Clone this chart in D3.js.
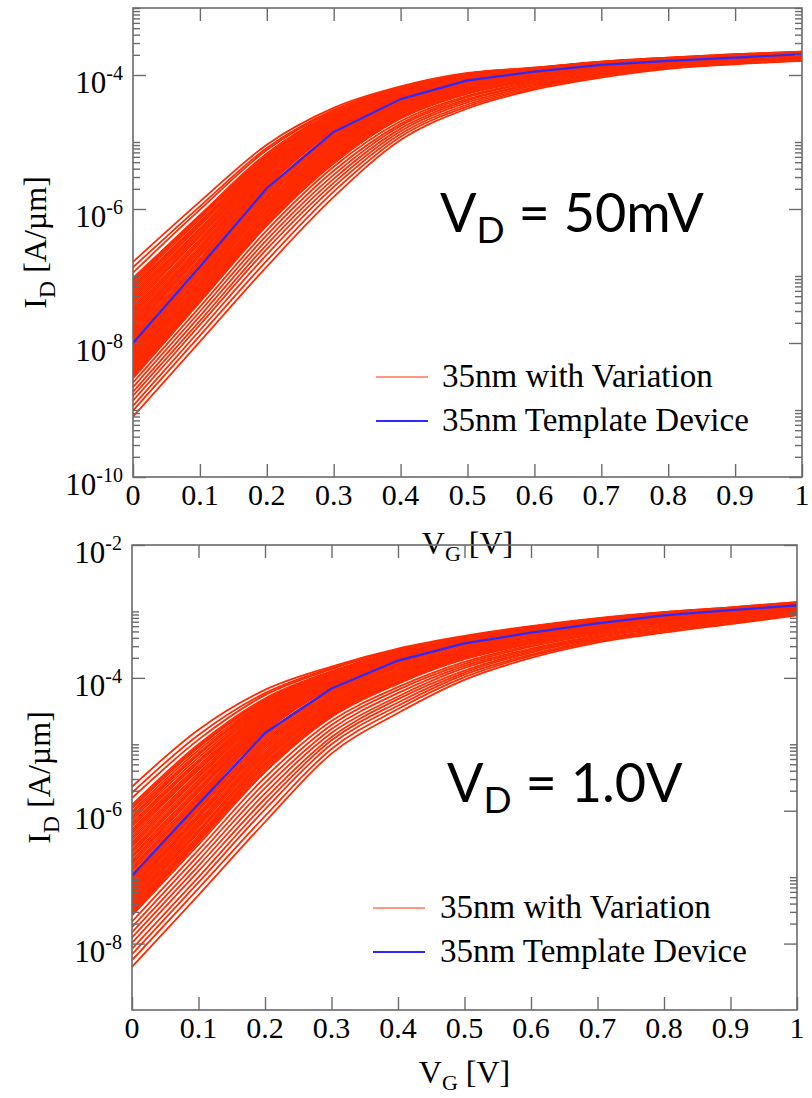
<!DOCTYPE html>
<html>
<head>
<meta charset="utf-8">
<script src="https://cdn.jsdelivr.net/npm/d3@7"></script>
<style>
  html, body { margin: 0; padding: 0; background: #ffffff; }
  svg { display: block; }
</style>
</head>
<body>
<svg id="chart" width="812" height="1098"></svg>
<script>
// Gate voltage sample points [V] and their tick labels
const vgVolts = [0, 0.1, 0.2, 0.3, 0.4, 0.5, 0.6, 0.7, 0.8, 0.9, 1.0];
const xTickLabels = ["0", "0.1", "0.2", "0.3", "0.4", "0.5", "0.6", "0.7", "0.8", "0.9", "1"];

// Drain current, stored as log10(I_D [A/µm]) at each gate voltage
// V_D = 50 mV
const template50mV = [-8.00, -6.86, -5.69, -4.85, -4.36, -4.08, -3.95, -3.85, -3.79, -3.74, -3.69];
const variation50mV = [
  [-7.97, -6.84, -5.68, -4.84, -4.36, -4.08, -3.95, -3.85, -3.79, -3.74, -3.69],
  [-7.94, -6.81, -5.66, -4.83, -4.35, -4.07, -3.95, -3.85, -3.79, -3.74, -3.69],
  [-7.91, -6.78, -5.64, -4.82, -4.35, -4.07, -3.95, -3.85, -3.79, -3.74, -3.69],
  [-7.88, -6.77, -5.62, -4.81, -4.34, -4.07, -3.94, -3.84, -3.78, -3.73, -3.69],
  [-7.85, -6.74, -5.61, -4.81, -4.34, -4.07, -3.94, -3.84, -3.78, -3.73, -3.69],
  [-7.82, -6.70, -5.59, -4.80, -4.33, -4.06, -3.94, -3.84, -3.78, -3.73, -3.68],
  [-7.79, -6.69, -5.58, -4.79, -4.33, -4.06, -3.94, -3.84, -3.78, -3.73, -3.68],
  [-7.76, -6.67, -5.57, -4.78, -4.32, -4.06, -3.94, -3.84, -3.78, -3.73, -3.68],
  [-7.73, -6.64, -5.55, -4.77, -4.32, -4.06, -3.94, -3.84, -3.78, -3.73, -3.68],
  [-7.70, -6.61, -5.53, -4.76, -4.31, -4.05, -3.93, -3.84, -3.78, -3.73, -3.68],
  [-7.67, -6.60, -5.51, -4.75, -4.31, -4.05, -3.93, -3.83, -3.77, -3.72, -3.68],
  [-7.64, -6.58, -5.49, -4.74, -4.30, -4.05, -3.93, -3.83, -3.77, -3.72, -3.68],
  [-7.61, -6.55, -5.48, -4.73, -4.30, -4.05, -3.93, -3.83, -3.77, -3.72, -3.68],
  [-7.58, -6.51, -5.46, -4.72, -4.29, -4.04, -3.93, -3.83, -3.77, -3.72, -3.68],
  [-7.55, -6.50, -5.45, -4.72, -4.29, -4.04, -3.93, -3.83, -3.77, -3.72, -3.67],
  [-7.52, -6.48, -5.43, -4.71, -4.28, -4.04, -3.93, -3.83, -3.77, -3.72, -3.67],
  [-7.49, -6.45, -5.41, -4.70, -4.28, -4.03, -3.92, -3.83, -3.77, -3.72, -3.67],
  [-7.46, -6.41, -5.40, -4.69, -4.27, -4.03, -3.92, -3.83, -3.77, -3.72, -3.67],
  [-7.42, -6.40, -5.38, -4.68, -4.27, -4.03, -3.92, -3.82, -3.76, -3.71, -3.67],
  [-7.39, -6.38, -5.36, -4.67, -4.26, -4.02, -3.92, -3.82, -3.76, -3.71, -3.67],
  [-7.36, -6.35, -5.35, -4.66, -4.26, -4.02, -3.92, -3.82, -3.76, -3.71, -3.67],
  [-7.33, -6.32, -5.33, -4.65, -4.26, -4.02, -3.92, -3.82, -3.76, -3.71, -3.67],
  [-7.30, -6.30, -5.31, -4.64, -4.25, -4.02, -3.91, -3.82, -3.76, -3.71, -3.67],
  [-7.27, -6.29, -5.30, -4.63, -4.25, -4.01, -3.91, -3.82, -3.76, -3.71, -3.67],
  [-7.24, -6.25, -5.28, -4.62, -4.24, -4.01, -3.91, -3.82, -3.76, -3.71, -3.66],
  [-7.21, -6.22, -5.27, -4.62, -4.24, -4.01, -3.91, -3.82, -3.76, -3.71, -3.66],
  [-7.18, -6.20, -5.25, -4.61, -4.23, -4.00, -3.91, -3.81, -3.75, -3.70, -3.66],
  [-7.15, -6.19, -5.23, -4.60, -4.23, -4.00, -3.91, -3.81, -3.75, -3.70, -3.66],
  [-7.12, -6.15, -5.22, -4.59, -4.22, -4.00, -3.90, -3.81, -3.75, -3.70, -3.66],
  [-7.09, -6.12, -5.20, -4.58, -4.22, -4.00, -3.90, -3.81, -3.75, -3.70, -3.66],
  [-7.06, -6.10, -5.18, -4.57, -4.21, -3.99, -3.90, -3.81, -3.75, -3.70, -3.66],
  [-7.03, -6.09, -5.17, -4.56, -4.21, -3.99, -3.90, -3.81, -3.75, -3.70, -3.66],
  [-6.95, -6.01, -5.12, -4.54, -4.19, -3.98, -3.90, -3.81, -3.75, -3.70, -3.66],
  [-6.87, -5.96, -5.09, -4.52, -4.18, -3.98, -3.89, -3.80, -3.74, -3.69, -3.65],
  [-6.79, -5.89, -5.04, -4.49, -4.17, -3.97, -3.89, -3.80, -3.74, -3.69, -3.65],
  [-8.02, -6.88, -5.72, -4.87, -4.37, -4.09, -3.96, -3.86, -3.79, -3.74, -3.69],
  [-8.04, -6.90, -5.74, -4.89, -4.38, -4.10, -3.96, -3.86, -3.79, -3.74, -3.69],
  [-8.07, -6.92, -5.76, -4.91, -4.40, -4.11, -3.97, -3.86, -3.80, -3.75, -3.70],
  [-8.09, -6.94, -5.78, -4.93, -4.41, -4.11, -3.97, -3.87, -3.80, -3.75, -3.70],
  [-8.11, -6.97, -5.81, -4.95, -4.42, -4.12, -3.98, -3.87, -3.80, -3.75, -3.70],
  [-8.13, -7.00, -5.83, -4.97, -4.43, -4.13, -3.98, -3.87, -3.80, -3.75, -3.70],
  [-8.15, -7.02, -5.85, -4.99, -4.45, -4.14, -3.99, -3.88, -3.81, -3.75, -3.70],
  [-8.18, -7.03, -5.88, -5.01, -4.46, -4.15, -3.99, -3.88, -3.81, -3.76, -3.71],
  [-8.20, -7.06, -5.90, -5.03, -4.47, -4.15, -4.00, -3.88, -3.81, -3.76, -3.71],
  [-8.22, -7.09, -5.92, -5.04, -4.48, -4.16, -4.00, -3.89, -3.81, -3.76, -3.71],
  [-8.24, -7.11, -5.95, -5.06, -4.50, -4.17, -4.01, -3.89, -3.81, -3.76, -3.71],
  [-8.26, -7.12, -5.97, -5.08, -4.51, -4.18, -4.01, -3.90, -3.82, -3.76, -3.71],
  [-8.29, -7.15, -5.99, -5.10, -4.52, -4.19, -4.02, -3.90, -3.82, -3.77, -3.72],
  [-8.31, -7.18, -6.02, -5.12, -4.53, -4.20, -4.03, -3.90, -3.82, -3.77, -3.72],
  [-8.33, -7.20, -6.04, -5.14, -4.55, -4.21, -4.03, -3.91, -3.82, -3.77, -3.72],
  [-8.35, -7.21, -6.06, -5.16, -4.56, -4.21, -4.04, -3.91, -3.83, -3.77, -3.72],
  [-8.37, -7.24, -6.09, -5.18, -4.57, -4.22, -4.04, -3.92, -3.83, -3.77, -3.72],
  [-8.40, -7.27, -6.11, -5.20, -4.58, -4.23, -4.05, -3.92, -3.83, -3.78, -3.73],
  [-8.42, -7.29, -6.13, -5.22, -4.59, -4.24, -4.05, -3.92, -3.84, -3.78, -3.73],
  [-8.44, -7.30, -6.16, -5.24, -4.60, -4.25, -4.06, -3.93, -3.84, -3.78, -3.73],
  [-8.46, -7.33, -6.18, -5.26, -4.62, -4.25, -4.06, -3.93, -3.84, -3.78, -3.73],
  [-8.48, -7.36, -6.20, -5.28, -4.63, -4.26, -4.07, -3.93, -3.84, -3.78, -3.73],
  [-8.51, -7.37, -6.23, -5.30, -4.64, -4.27, -4.07, -3.94, -3.85, -3.79, -3.74],
  [-8.53, -7.39, -6.25, -5.32, -4.65, -4.28, -4.08, -3.94, -3.85, -3.79, -3.74],
  [-8.59, -7.46, -6.32, -5.37, -4.69, -4.31, -4.10, -3.95, -3.85, -3.79, -3.74],
  [-8.66, -7.53, -6.39, -5.43, -4.73, -4.33, -4.11, -3.96, -3.86, -3.80, -3.75],
  [-8.73, -7.60, -6.46, -5.49, -4.76, -4.36, -4.13, -3.98, -3.87, -3.81, -3.76],
  [-8.79, -7.67, -6.53, -5.55, -4.80, -4.38, -4.14, -3.99, -3.88, -3.81, -3.76],
  [-8.86, -7.73, -6.60, -5.61, -4.84, -4.41, -4.16, -4.00, -3.88, -3.82, -3.77],
  [-8.94, -7.81, -6.68, -5.67, -4.88, -4.44, -4.18, -4.01, -3.89, -3.83, -3.78],
  [-9.01, -7.89, -6.77, -5.74, -4.92, -4.47, -4.20, -4.02, -3.90, -3.83, -3.78],
  [-9.10, -7.98, -6.86, -5.82, -4.97, -4.50, -4.22, -4.04, -3.91, -3.84, -3.79]
];

// V_D = 1.0 V
const template1V = [-6.98, -5.90, -4.83, -4.16, -3.74, -3.48, -3.32, -3.18, -3.06, -2.98, -2.91];
const variation1V = [
  [-6.95, -5.87, -4.82, -4.15, -3.74, -3.48, -3.32, -3.18, -3.06, -2.98, -2.91],
  [-6.91, -5.84, -4.80, -4.14, -3.73, -3.47, -3.31, -3.18, -3.06, -2.98, -2.91],
  [-6.88, -5.81, -4.78, -4.13, -3.72, -3.47, -3.31, -3.17, -3.06, -2.98, -2.91],
  [-6.85, -5.79, -4.76, -4.13, -3.72, -3.47, -3.31, -3.17, -3.05, -2.98, -2.90],
  [-6.81, -5.76, -4.75, -4.12, -3.72, -3.47, -3.31, -3.17, -3.05, -2.97, -2.90],
  [-6.78, -5.72, -4.73, -4.11, -3.71, -3.46, -3.30, -3.17, -3.05, -2.97, -2.90],
  [-6.75, -5.70, -4.72, -4.10, -3.71, -3.46, -3.30, -3.17, -3.05, -2.97, -2.90],
  [-6.71, -5.68, -4.70, -4.09, -3.70, -3.46, -3.30, -3.16, -3.05, -2.97, -2.90],
  [-6.68, -5.65, -4.68, -4.09, -3.70, -3.46, -3.30, -3.16, -3.05, -2.97, -2.90],
  [-6.64, -5.61, -4.67, -4.08, -3.69, -3.45, -3.29, -3.16, -3.05, -2.97, -2.90],
  [-6.61, -5.59, -4.65, -4.07, -3.69, -3.45, -3.29, -3.16, -3.04, -2.97, -2.89],
  [-6.58, -5.57, -4.63, -4.06, -3.69, -3.45, -3.29, -3.16, -3.04, -2.97, -2.89],
  [-6.54, -5.54, -4.62, -4.05, -3.68, -3.45, -3.29, -3.15, -3.04, -2.97, -2.89],
  [-6.51, -5.50, -4.60, -4.04, -3.68, -3.44, -3.28, -3.15, -3.04, -2.97, -2.89],
  [-6.48, -5.48, -4.59, -4.04, -3.68, -3.44, -3.28, -3.15, -3.04, -2.96, -2.89],
  [-6.44, -5.46, -4.57, -4.03, -3.67, -3.44, -3.28, -3.15, -3.04, -2.96, -2.89],
  [-6.41, -5.43, -4.55, -4.02, -3.67, -3.43, -3.28, -3.15, -3.04, -2.96, -2.89],
  [-6.38, -5.39, -4.54, -4.01, -3.66, -3.43, -3.27, -3.14, -3.04, -2.96, -2.89],
  [-6.34, -5.37, -4.52, -4.00, -3.66, -3.43, -3.27, -3.14, -3.03, -2.96, -2.88],
  [-6.31, -5.35, -4.50, -3.99, -3.65, -3.42, -3.27, -3.14, -3.03, -2.96, -2.88],
  [-6.28, -5.32, -4.49, -3.99, -3.65, -3.42, -3.27, -3.14, -3.03, -2.96, -2.88],
  [-6.24, -5.28, -4.47, -3.98, -3.64, -3.42, -3.26, -3.14, -3.03, -2.96, -2.88],
  [-6.21, -5.26, -4.46, -3.97, -3.64, -3.42, -3.26, -3.13, -3.03, -2.96, -2.88],
  [-6.18, -5.24, -4.44, -3.96, -3.63, -3.41, -3.26, -3.13, -3.03, -2.96, -2.88],
  [-6.14, -5.20, -4.42, -3.96, -3.63, -3.41, -3.26, -3.13, -3.03, -2.95, -2.88],
  [-6.11, -5.16, -4.41, -3.95, -3.62, -3.41, -3.25, -3.13, -3.03, -2.95, -2.88],
  [-6.08, -5.15, -4.39, -3.94, -3.62, -3.41, -3.25, -3.13, -3.02, -2.95, -2.88],
  [-6.04, -5.13, -4.37, -3.93, -3.61, -3.40, -3.25, -3.12, -3.02, -2.95, -2.87],
  [-6.01, -5.09, -4.36, -3.92, -3.61, -3.40, -3.25, -3.12, -3.02, -2.95, -2.87],
  [-5.97, -5.05, -4.34, -3.91, -3.60, -3.40, -3.24, -3.12, -3.02, -2.95, -2.87],
  [-5.94, -5.03, -4.33, -3.91, -3.60, -3.39, -3.24, -3.12, -3.02, -2.95, -2.87],
  [-5.91, -5.00, -4.31, -3.90, -3.60, -3.39, -3.24, -3.12, -3.02, -2.95, -2.87],
  [-5.81, -4.93, -4.26, -3.87, -3.58, -3.38, -3.23, -3.11, -3.02, -2.95, -2.87],
  [-5.73, -4.86, -4.23, -3.85, -3.57, -3.38, -3.23, -3.11, -3.01, -2.94, -2.86],
  [-5.64, -4.78, -4.18, -3.83, -3.56, -3.37, -3.22, -3.10, -3.01, -2.94, -2.86],
  [-7.01, -5.93, -4.86, -4.18, -3.76, -3.49, -3.33, -3.19, -3.07, -2.99, -2.92],
  [-7.03, -5.95, -4.88, -4.20, -3.77, -3.50, -3.34, -3.19, -3.07, -2.99, -2.92],
  [-7.06, -5.98, -4.91, -4.22, -3.79, -3.51, -3.35, -3.20, -3.08, -2.99, -2.92],
  [-7.09, -6.00, -4.94, -4.24, -3.80, -3.52, -3.35, -3.20, -3.08, -3.00, -2.92],
  [-7.12, -6.04, -4.97, -4.26, -3.82, -3.54, -3.36, -3.21, -3.09, -3.00, -2.93],
  [-7.14, -6.07, -4.99, -4.28, -3.83, -3.55, -3.37, -3.21, -3.09, -3.01, -2.93],
  [-7.17, -6.09, -5.02, -4.30, -3.85, -3.56, -3.38, -3.22, -3.10, -3.01, -2.93],
  [-7.20, -6.11, -5.04, -4.32, -3.87, -3.57, -3.38, -3.23, -3.10, -3.01, -2.93],
  [-7.23, -6.15, -5.07, -4.34, -3.89, -3.58, -3.39, -3.23, -3.11, -3.02, -2.94],
  [-7.25, -6.18, -5.10, -4.36, -3.90, -3.59, -3.40, -3.24, -3.11, -3.02, -2.94],
  [-7.28, -6.20, -5.13, -4.38, -3.92, -3.60, -3.40, -3.24, -3.12, -3.03, -2.94],
  [-7.31, -6.22, -5.15, -4.40, -3.93, -3.61, -3.41, -3.25, -3.12, -3.03, -2.95],
  [-7.34, -6.25, -5.18, -4.42, -3.95, -3.62, -3.42, -3.25, -3.13, -3.03, -2.95],
  [-7.36, -6.29, -5.21, -4.43, -3.96, -3.63, -3.43, -3.26, -3.13, -3.04, -2.95],
  [-7.39, -6.31, -5.23, -4.45, -3.98, -3.65, -3.43, -3.27, -3.14, -3.04, -2.95],
  [-7.42, -6.33, -5.26, -4.47, -3.99, -3.66, -3.44, -3.27, -3.14, -3.05, -2.96],
  [-7.45, -6.37, -5.29, -4.49, -4.01, -3.67, -3.45, -3.28, -3.15, -3.05, -2.96],
  [-7.47, -6.40, -5.31, -4.51, -4.02, -3.68, -3.46, -3.28, -3.15, -3.06, -2.96],
  [-7.50, -6.42, -5.34, -4.53, -4.04, -3.69, -3.47, -3.29, -3.16, -3.06, -2.97],
  [-7.53, -6.44, -5.37, -4.55, -4.06, -3.70, -3.47, -3.30, -3.16, -3.06, -2.97],
  [-7.55, -6.47, -5.40, -4.57, -4.07, -3.71, -3.48, -3.30, -3.17, -3.07, -2.97],
  [-7.58, -6.51, -5.42, -4.59, -4.09, -3.72, -3.49, -3.31, -3.17, -3.07, -2.98],
  [-7.67, -6.59, -5.50, -4.65, -4.14, -3.76, -3.51, -3.33, -3.19, -3.09, -2.99],
  [-7.75, -6.67, -5.58, -4.71, -4.18, -3.79, -3.53, -3.34, -3.21, -3.10, -2.99],
  [-7.83, -6.75, -5.66, -4.77, -4.23, -3.82, -3.56, -3.36, -3.22, -3.11, -3.00],
  [-7.91, -6.83, -5.74, -4.83, -4.28, -3.85, -3.58, -3.38, -3.24, -3.12, -3.01],
  [-7.99, -6.91, -5.82, -4.89, -4.32, -3.89, -3.60, -3.39, -3.25, -3.14, -3.02],
  [-8.08, -7.00, -5.90, -4.94, -4.37, -3.92, -3.62, -3.41, -3.27, -3.15, -3.03],
  [-8.16, -7.08, -5.98, -5.00, -4.42, -3.95, -3.65, -3.43, -3.28, -3.16, -3.04],
  [-8.25, -7.17, -6.08, -5.07, -4.47, -3.99, -3.67, -3.45, -3.30, -3.18, -3.05],
  [-8.35, -7.27, -6.17, -5.14, -4.53, -4.03, -3.70, -3.47, -3.32, -3.19, -3.06]
];

// Decades that carry a labelled major tick on the current axis
const majorExp50mV = [-10, -8, -6, -4];
const majorExp1V = [-8, -6, -4, -2];
const minorMultipliers = [2, 3, 4, 5, 6, 7, 8, 9, 10];

const legendLabels = ["35nm with Variation", "35nm Template Device"];

const RED = "#ff2a00";
const BLUE = "#2a2aff";
const FRAME = "#6a6a6a";
const SERIF = "'Liberation Serif', 'Times New Roman', Times, serif";
const SANS = "Lato, 'Open Sans', 'Noto Sans', sans-serif";

const svg = d3.select("#chart");

const panels = [
  {
    id: "p50mV",
    template: template50mV, variation: variation50mV,
    majors: majorExp50mV, domain: [1e-10, 1e-3],
    left: 133, right: 802, top: 8, bottom: 477,
    titleX: 46, titleGap: 77,
    noteSub: "D", noteText: " = 50mV", noteX: 440, noteY: 232,
    legendX: 376, legendTextX: 442, legendY: 377
  },
  {
    id: "p1V",
    template: template1V, variation: variation1V,
    majors: majorExp1V, domain: [1e-9, 1e-2],
    left: 132, right: 797, top: 545, bottom: 1010,
    titleX: 50, titleGap: 73,
    noteSub: "D", noteText: " = 1.0V", noteX: 447, noteY: 802,
    legendX: 373, legendTextX: 440, legendY: 908
  }
];

function drawPanel(p) {
  const x = d3.scaleLinear().domain([0, 1]).range([p.left, p.right]);
  const y = d3.scaleLog().domain(p.domain).range([p.bottom, p.top]);
  const g = svg.append("g").attr("id", p.id);

  g.append("clipPath").attr("id", p.id + "-clip")
    .append("rect")
    .attr("x", p.left).attr("y", p.top)
    .attr("width", p.right - p.left).attr("height", p.bottom - p.top);

  const smoothLine = d3.line()
    .x((d, i) => x(vgVolts[i]))
    .y(d => y(Math.pow(10, d)))
    .curve(d3.curveMonotoneX);
  const straightLine = d3.line()
    .x((d, i) => x(vgVolts[i]))
    .y(d => y(Math.pow(10, d)));

  const curves = g.append("g").attr("clip-path", `url(#${p.id}-clip)`);
  curves.selectAll("path.variation")
    .data(p.variation)
    .join("path")
    .attr("class", "variation")
    .attr("d", smoothLine)
    .attr("fill", "none")
    .attr("stroke", RED)
    .attr("stroke-width", 1.8)
    .attr("stroke-linejoin", "round");
  curves.append("path")
    .datum(p.template)
    .attr("d", straightLine)
    .attr("fill", "none")
    .attr("stroke", BLUE)
    .attr("stroke-width", 2.2)
    .attr("stroke-linejoin", "round");

  // Ticks: all point inward, mirrored on the opposite sides
  const majorVals = p.majors.map(e => Math.pow(10, e));
  const minorVals = [];
  p.majors.forEach(e => minorMultipliers.forEach(k => {
    const v = k * Math.pow(10, e);
    if (v >= p.domain[0] && v <= p.domain[1]) minorVals.push(v);
  }));

  const styleAxis = sel => {
    sel.select(".domain").remove();
    sel.selectAll(".tick line").attr("stroke", FRAME).attr("stroke-width", 1.4);
    sel.selectAll(".tick text").remove();
  };

  g.append("g").attr("transform", `translate(0,${p.bottom})`)
    .call(d3.axisBottom(x).tickValues(vgVolts).tickSize(-13)).call(styleAxis);
  g.append("g").attr("transform", `translate(0,${p.top})`)
    .call(d3.axisTop(x).tickValues(vgVolts.slice(1, -1)).tickSize(-13)).call(styleAxis);
  g.append("g").attr("transform", `translate(${p.left},0)`)
    .call(d3.axisLeft(y).tickValues(majorVals).tickSize(-13)).call(styleAxis);
  g.append("g").attr("transform", `translate(${p.left},0)`)
    .call(d3.axisLeft(y).tickValues(minorVals).tickSize(-7)).call(styleAxis);
  g.append("g").attr("transform", `translate(${p.right},0)`)
    .call(d3.axisRight(y).tickValues(majorVals).tickSize(-13)).call(styleAxis);
  g.append("g").attr("transform", `translate(${p.right},0)`)
    .call(d3.axisRight(y).tickValues(minorVals).tickSize(-7)).call(styleAxis);

  g.append("rect")
    .attr("x", p.left).attr("y", p.top)
    .attr("width", p.right - p.left).attr("height", p.bottom - p.top)
    .attr("fill", "none").attr("stroke", FRAME).attr("stroke-width", 1.6);

  // X tick labels
  g.selectAll("text.xlab")
    .data(vgVolts)
    .join("text")
    .attr("class", "xlab")
    .attr("x", d => x(d))
    .attr("y", p.bottom + 28)
    .attr("text-anchor", "middle")
    .attr("font-family", SERIF)
    .attr("font-size", 30)
    .attr("fill", "#000")
    .text((d, i) => xTickLabels[i]);

  // Y tick labels 10^n
  const ylab = g.selectAll("text.ylab")
    .data(p.majors)
    .join("text")
    .attr("class", "ylab")
    .attr("x", p.left - 10)
    .attr("y", e => y(Math.pow(10, e)) + 18)
    .attr("text-anchor", "end")
    .attr("font-family", SERIF)
    .attr("fill", "#000");
  ylab.append("tspan").attr("font-size", 31).text("10");
  ylab.append("tspan").attr("font-size", 20).attr("dy", -13).text(e => String(e));

  // Axis titles
  const xt = g.append("text")
    .attr("x", (p.left + p.right) / 2)
    .attr("y", p.bottom + p.titleGap)
    .attr("text-anchor", "middle")
    .attr("font-family", SERIF)
    .attr("font-size", 32)
    .attr("fill", "#000");
  xt.append("tspan").text("V");
  xt.append("tspan").attr("font-size", 22).attr("dy", 7).text("G");
  xt.append("tspan").attr("dy", -7).text(" [V]");

  const cy = (p.top + p.bottom) / 2;
  const yt = g.append("text")
    .attr("transform", `translate(${p.titleX},${cy}) rotate(-90)`)
    .attr("text-anchor", "middle")
    .attr("font-family", SERIF)
    .attr("font-size", 32)
    .attr("fill", "#000");
  yt.append("tspan").text("I");
  yt.append("tspan").attr("font-size", 24).attr("dy", 9).text("D");
  yt.append("tspan").attr("dy", -9).text(" [A/\u00b5m]");

  // Bias annotation
  const note = g.append("text")
    .attr("x", p.noteX).attr("y", p.noteY)
    .attr("font-family", SANS)
    .attr("font-size", 54)
    .attr("fill", "#000");
  note.append("tspan").text("V");
  note.append("tspan").attr("font-size", 37).attr("dy", 11).text(p.noteSub);
  note.append("tspan").attr("dy", -11).text(p.noteText);

  // Legend
  const legendColors = [RED, BLUE];
  const lg = g.append("g");
  legendLabels.forEach((label, i) => {
    const ly = p.legendY + i * 44;
    lg.append("line")
      .attr("x1", p.legendX).attr("x2", p.legendX + 52)
      .attr("y1", ly).attr("y2", ly)
      .attr("stroke", legendColors[i])
      .attr("stroke-opacity", i === 0 ? 0.65 : 1)
      .attr("stroke-width", i === 0 ? 1.4 : 2);
    lg.append("text")
      .attr("x", p.legendTextX).attr("y", ly + 10)
      .attr("font-family", SERIF)
      .attr("font-size", 33)
      .attr("fill", "#000")
      .text(label);
  });
}

panels.forEach(drawPanel);
</script>
</body>
</html>
